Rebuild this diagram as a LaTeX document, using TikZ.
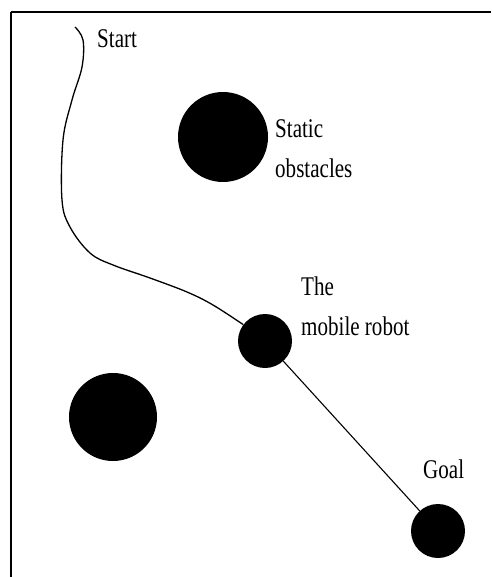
\documentclass[tikz,border=0pt]{standalone}
\usepackage{fontspec}
\newfontfamily\labelfont[FakeStretch=0.78]{Liberation Serif}
\begin{document}
\begin{tikzpicture}[x=1pt,y=-1pt,
  obstacle/.style={circle,fill=black,inner sep=0pt},
  robot node/.style={circle,fill=black,inner sep=0pt,minimum size=54pt},
  label/.style={anchor=north west,inner sep=0pt,align=left,
    font=\labelfont\fontsize{27}{40}\selectfont}]
  \useasboundingbox (0,0) rectangle (491,577);

  % frame
  \draw[line width=2.4pt] (11,12) -- (491,12);
  \draw[line width=2pt] (11,12) -- (11,577);

  \node[obstacle,minimum size=90pt] (obs1) at (223,137) {};
  \node[obstacle,minimum size=88pt] (obs2) at (113,417) {};
  \node[robot node] (robot) at (265,341) {};
  \node[robot node] (goal) at (438,531) {};
  \coordinate (start) at (75,27);

  \node[label] (startlabel) at (97,29) {Start};
  \node[label] (obslabel) at (275,119) {Static\\obstacles};
  \node[label] (robotlabel) at (301,277) {The\\mobile robot};
  \node[label] (goallabel) at (423,460) {Goal};

  % travelled path and straight way to the goal
  \draw[line width=1.3pt] plot[smooth,tension=0.6] coordinates {(start) (83,40) (82,67)
    (72,100) (63,140) (62,200) (70,227) (90,253) (113,265) (150,278) (187,292)
    (213,305) (robot.143)};
  \draw[line width=1.1pt] (robot) -- (goal);
\end{tikzpicture}
\end{document}
